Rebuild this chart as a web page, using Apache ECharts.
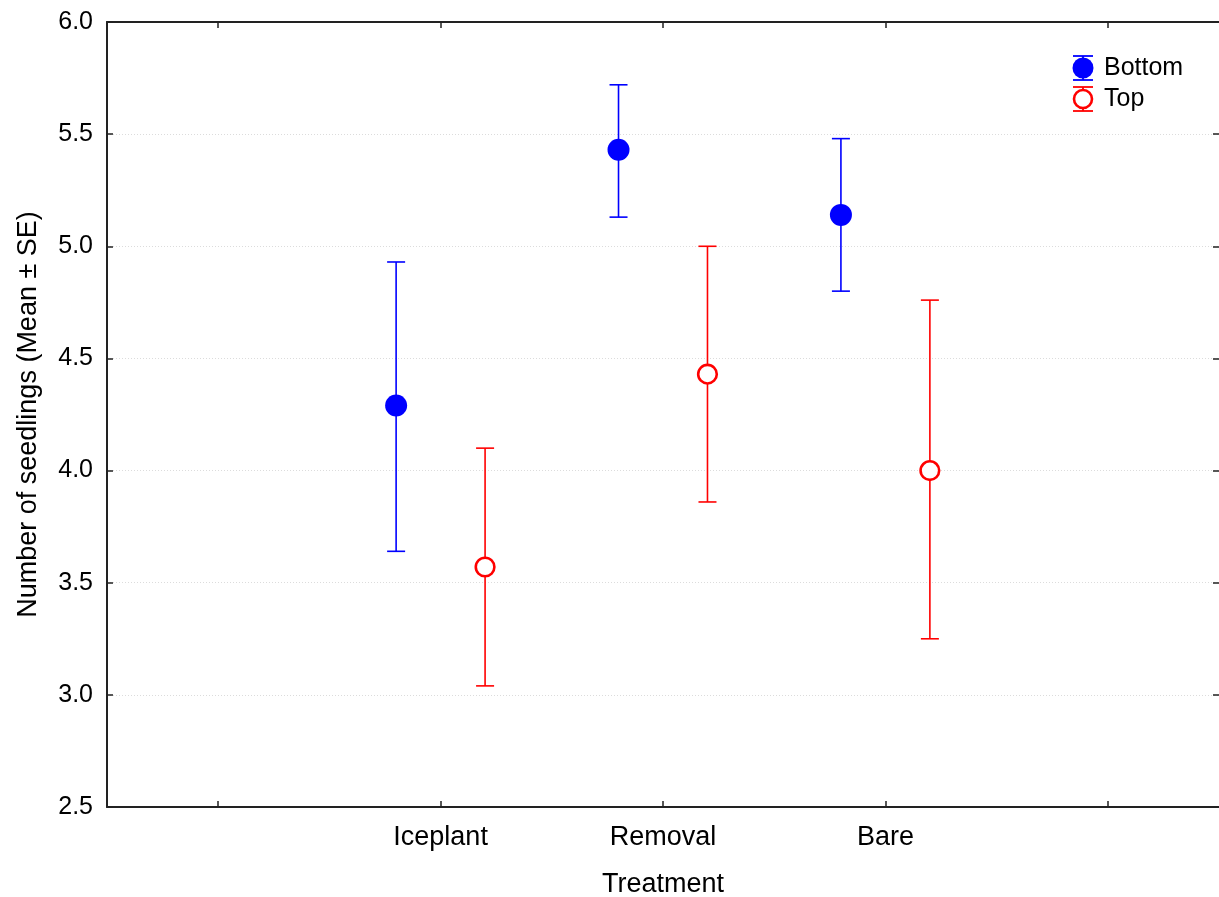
<!DOCTYPE html>
<html>
<head>
<meta charset="utf-8">
<script src="https://cdn.jsdelivr.net/npm/echarts@6/dist/echarts.min.js"></script>
<style>
  html, body { margin: 0; padding: 0; background: #fff; overflow: hidden; }
  #chart { width: 1219px; height: 897px; }
</style>
</head>
<body>
<div id="chart"></div>
<script>
// Treatment groups; blank slots pad the axis on both sides
const categories = ['Iceplant', 'Removal', 'Bare'];
const axisCategories = ['', ...categories, ''];

// Bottom position: mean and mean ± SE
const bottomMean = [4.29, 5.43, 5.14];
const bottomLow  = [3.64, 5.13, 4.80];
const bottomHigh = [4.93, 5.72, 5.48];

// Top position: mean and mean ± SE
const topMean = [3.57, 4.43, 4.00];
const topLow  = [3.04, 3.86, 3.25];
const topHigh = [4.10, 5.00, 4.76];

const yTicks = { min: 2.5, max: 6.0, step: 0.5 };

const FONT = '"Liberation Sans", Arial, sans-serif';
const BLUE = '#0000ff';
const RED = '#ff0000';
const AXIS = '#222222';

function rows(mean, low, high) {
  return mean.map((m, i) => [i + 1, m, low[i], high[i]]);
}

// Draws a mean marker with its SE whiskers, shifted within the category band
function errorItem(shift, color, hollow) {
  return function (params, api) {
    const xi = api.value(0);
    const c = api.coord([xi, api.value(1)]);
    const lo = api.coord([xi, api.value(2)]);
    const hi = api.coord([xi, api.value(3)]);
    const band = api.size([1, 0])[0];
    const x = c[0] + shift * band;
    const cap = 9;
    const lineStyle = { stroke: color, lineWidth: 1.6 };
    return {
      type: 'group',
      children: [
        { type: 'line', shape: { x1: x, y1: hi[1], x2: x, y2: lo[1] }, style: lineStyle },
        { type: 'line', shape: { x1: x - cap, y1: hi[1], x2: x + cap, y2: hi[1] }, style: lineStyle },
        { type: 'line', shape: { x1: x - cap, y1: lo[1], x2: x + cap, y2: lo[1] }, style: lineStyle },
        hollow
          ? { type: 'circle', shape: { cx: x, cy: c[1], r: 9.3 }, style: { fill: '#fff', stroke: color, lineWidth: 2.6 } }
          : { type: 'circle', shape: { cx: x, cy: c[1], r: 11 }, style: { fill: color } }
      ]
    };
  };
}

const seriesDefs = [
  { name: 'Bottom', color: BLUE, hollow: false, shift: -0.2, data: rows(bottomMean, bottomLow, bottomHigh) },
  { name: 'Top', color: RED, hollow: true, shift: 0.2, data: rows(topMean, topLow, topHigh) }
];

// Legend entries: whisker-style icon plus series name
const legendX = 1083, legendY = 68, legendStep = 31;
const legendGraphics = [];
seriesDefs.forEach((s, i) => {
  const cy = legendY + i * legendStep;
  const ls = { stroke: s.color, lineWidth: 1.8 };
  legendGraphics.push(
    { type: 'line', shape: { x1: legendX - 10, y1: cy - 12, x2: legendX + 10, y2: cy - 12 }, style: ls },
    { type: 'line', shape: { x1: legendX - 10, y1: cy + 12, x2: legendX + 10, y2: cy + 12 }, style: ls },
    { type: 'line', shape: { x1: legendX, y1: cy - 12, x2: legendX, y2: cy + 12 }, style: ls },
    s.hollow
      ? { type: 'circle', shape: { cx: legendX, cy: cy, r: 9 }, style: { fill: '#fff', stroke: s.color, lineWidth: 2.6 } }
      : { type: 'circle', shape: { cx: legendX, cy: cy, r: 10.5 }, style: { fill: s.color } },
    { type: 'text', x: legendX + 21, y: cy, style: { text: s.name, font: '25px ' + FONT, fill: '#000', verticalAlign: 'middle', textVerticalAlign: 'middle' } }
  );
});

const tickLine = { show: true, inside: true, length: 6, lineStyle: { color: AXIS, width: 1.5 } };
const axisLine = { show: true, onZero: false, lineStyle: { color: AXIS, width: 2 } };

const chart = echarts.init(document.getElementById('chart'), null, { renderer: 'canvas' });
chart.setOption({
  animation: false,
  backgroundColor: '#fff',
  grid: { left: 107, right: 0, top: 22, bottom: 90, containLabel: false, outerBoundsMode: 'none' },
  xAxis: [
    {
      type: 'category', position: 'bottom', data: axisCategories, boundaryGap: true,
      axisLine: axisLine,
      axisTick: Object.assign({ alignWithLabel: true, interval: 0 }, tickLine),
      axisLabel: { interval: 0, margin: 17, color: '#000', fontSize: 27, fontFamily: FONT },
      splitLine: { show: false },
      name: 'Treatment', nameLocation: 'middle', nameGap: 64,
      nameTextStyle: { color: '#000', fontSize: 27, fontFamily: FONT }
    },
    {
      type: 'category', position: 'top', data: axisCategories, boundaryGap: true,
      axisLine: axisLine,
      axisTick: Object.assign({ alignWithLabel: true, interval: 0 }, tickLine),
      axisLabel: { show: false },
      splitLine: { show: false }
    }
  ],
  yAxis: [
    {
      type: 'value', position: 'left', min: yTicks.min, max: yTicks.max, interval: yTicks.step,
      axisLine: axisLine, axisTick: tickLine,
      axisLabel: { margin: 14, color: '#000', fontSize: 25, fontFamily: FONT, formatter: v => v.toFixed(1) },
      splitLine: { show: true, lineStyle: { color: '#dcdcdc', type: [1, 2], width: 1 } },
      name: 'Number of seedlings (Mean ± SE)', nameLocation: 'middle', nameGap: 65, nameRotate: 90,
      nameTextStyle: { color: '#000', fontSize: 27, fontFamily: FONT }
    },
    {
      // right edge: inward ticks only, the frame line sits past the canvas edge
      type: 'value', position: 'right', min: yTicks.min, max: yTicks.max, interval: yTicks.step,
      axisLine: { show: false }, axisTick: tickLine,
      axisLabel: { show: false }, splitLine: { show: false }
    }
  ],
  series: seriesDefs.map(s => ({
    type: 'custom',
    name: s.name,
    xAxisIndex: 0,
    yAxisIndex: 0,
    renderItem: errorItem(s.shift, s.color, s.hollow),
    encode: { x: 0, y: [1, 2, 3] },
    data: s.data,
    z: 3
  })),
  graphic: legendGraphics
});
</script>
</body>
</html>
